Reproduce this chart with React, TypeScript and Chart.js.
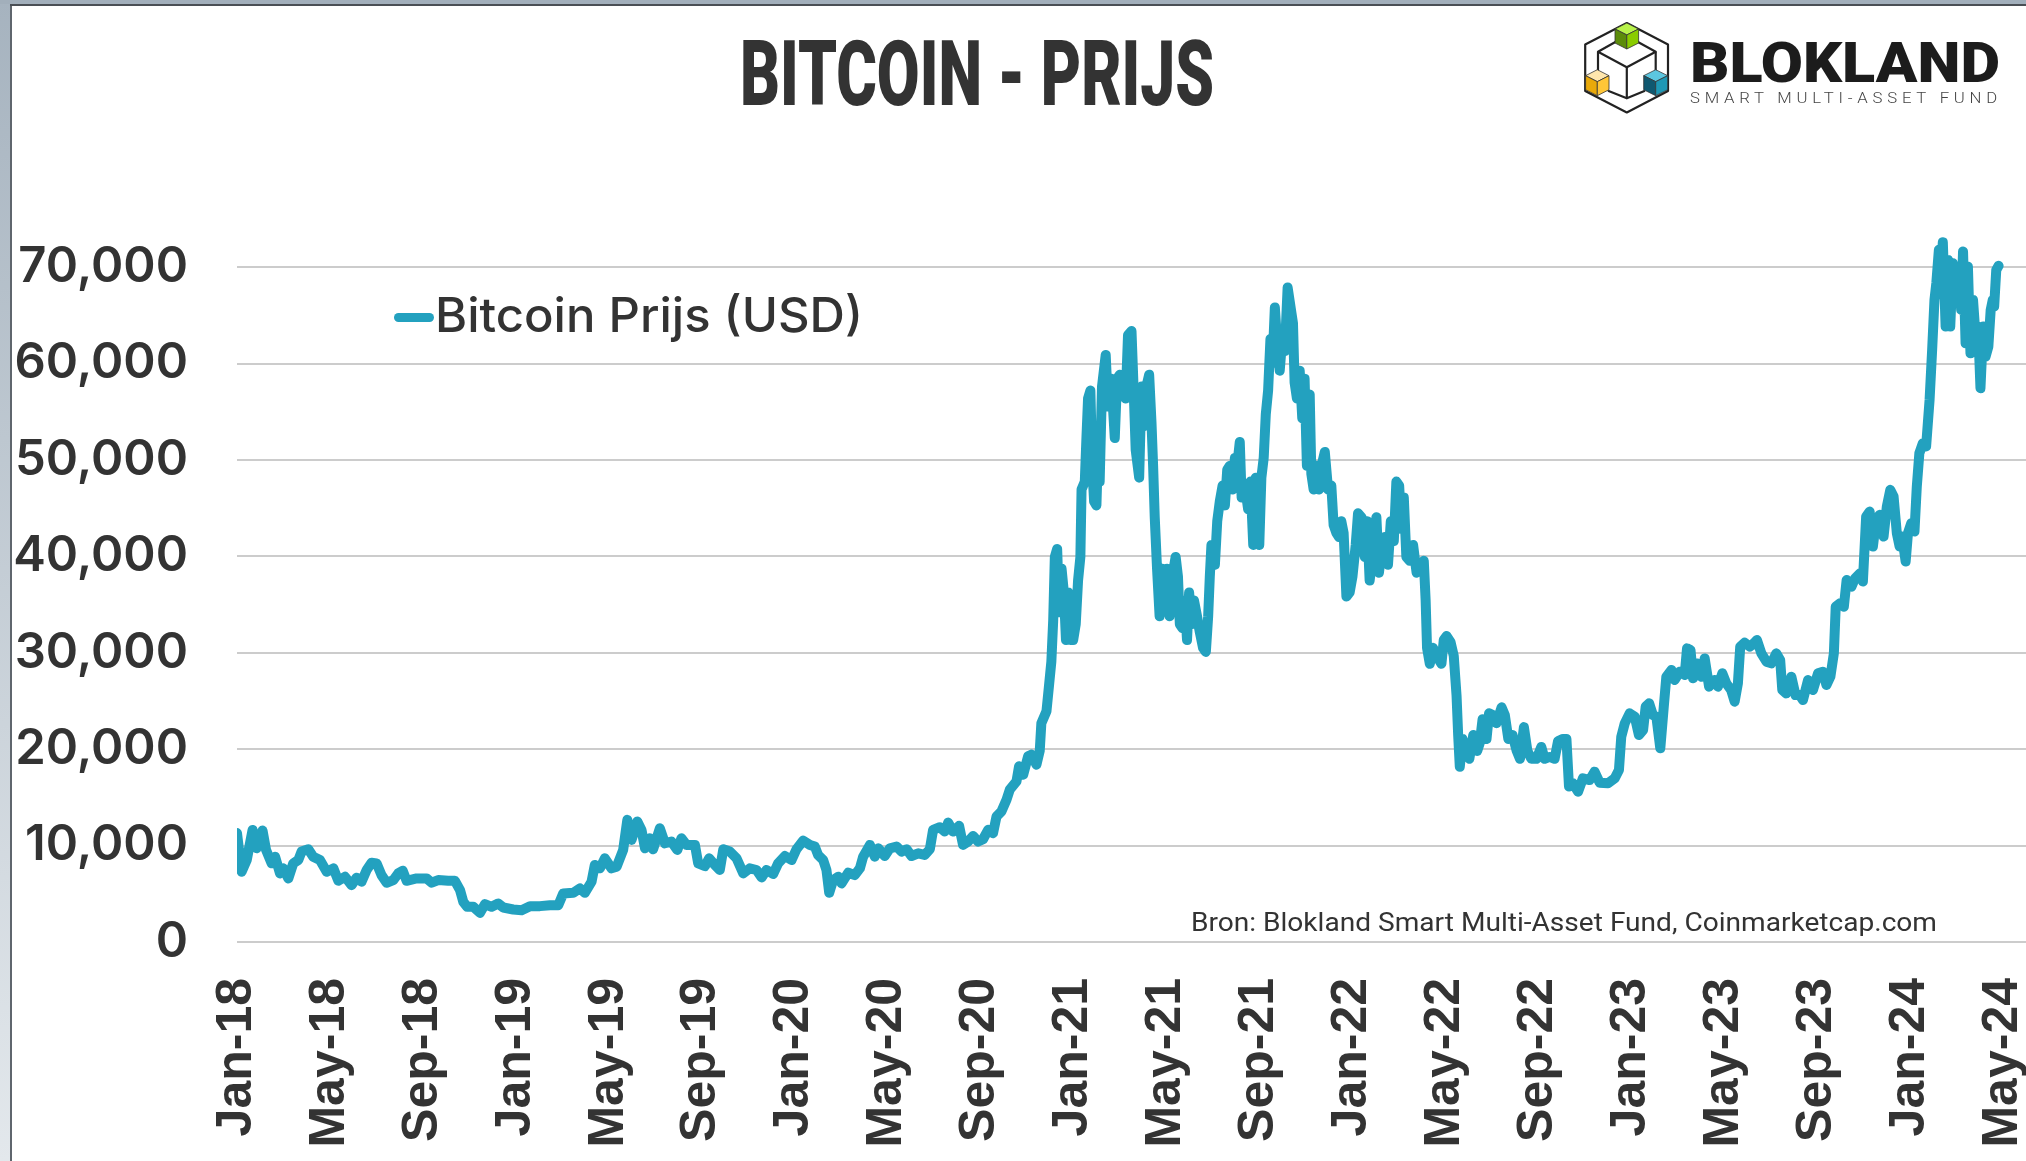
import React, { useEffect, useLayoutEffect, useRef } from "react";
import { Chart, registerables } from "chart.js";

Chart.register(...registerables);

const TITLE = "BITCOIN - PRIJS";
const SERIES_LABEL = "Bitcoin Prijs (USD)";
const SOURCE = "Bron: Blokland Smart Multi-Asset Fund, Coinmarketcap.com";
const LINE_COLOR = "#23A1BF";

const TICK_LABELS = [
  "Jan-18", "May-18", "Sep-18", "Jan-19", "May-19", "Sep-19", "Jan-20",
  "May-20", "Sep-20", "Jan-21", "May-21", "Sep-21", "Jan-22", "May-22",
  "Sep-22", "Jan-23", "May-23", "Sep-23", "Jan-24", "May-24",
];

const Y_TICKS = [0, 10000, 20000, 30000, 40000, 50000, 60000, 70000];

// x position in months since Jan-18
const MONTHS = [
  0, 0.2, 0.42, 0.67, 0.85, 1.1, 1.25, 1.49, 1.64, 1.85, 1.99, 2.21, 2.42, 2.64, 2.78, 3.07, 3.28, 3.57, 3.86,
  4.15, 4.36, 4.65, 4.93, 5.15, 5.36, 5.58, 5.79, 6.01, 6.22, 6.44, 6.73, 6.94, 7.13, 7.3, 7.73, 8.16, 8.38,
  8.66, 9.09, 9.38, 9.6, 9.74, 9.91, 10.17, 10.46, 10.67, 10.96, 11.24, 11.46, 11.89, 12.25, 12.61, 13.04,
  13.47, 13.83, 14.04, 14.47, 14.76, 14.97, 15.26, 15.4, 15.62, 15.83, 16.12, 16.34, 16.62, 16.8, 16.98,
  17.23, 17.41, 17.56, 17.77,
  17.91, 18.2, 18.42, 18.7, 18.95, 19.13, 19.35, 19.71, 19.85, 20.14, 20.32, 20.57, 20.78, 20.93, 21.21,
  21.5, 21.79, 22.07, 22.36, 22.58, 22.79, 23.08, 23.29, 23.58, 23.87, 24.08, 24.37, 24.66, 24.87, 25.01,
  25.23, 25.37, 25.49, 25.66, 25.88, 26.02, 26.31, 26.59, 26.81, 26.95, 27.24, 27.45, 27.6, 27.88, 28.1,
  28.39, 28.6, 28.82, 29.03, 29.32, 29.6, 29.82, 29.96, 30.25, 30.46, 30.61, 30.82, 31.08, 31.25, 31.47,
  31.68, 31.9, 32.11, 32.33, 32.54, 32.69, 32.9, 33.12, 33.26, 33.55, 33.66, 33.84, 34.05, 34.19, 34.41,
  34.55, 34.62, 34.84, 34.95, 35.05, 35.13, 35.2, 35.3, 35.39, 35.49, 35.59, 35.68, 35.77, 35.87, 35.99,
  36.1, 36.2, 36.3, 36.35, 36.49, 36.56, 36.63, 36.73, 36.81, 36.89, 36.99, 37.06, 37.13, 37.23, 37.39,
  37.49, 37.63, 37.78, 37.88, 38.0, 38.11, 38.25, 38.35, 38.5, 38.6, 38.68, 38.83, 38.93, 39.03, 39.14,
  39.26, 39.36, 39.43, 39.5, 39.6, 39.71, 39.83, 39.93, 40.03, 40.14, 40.26, 40.4, 40.5, 40.58, 40.69,
  40.79, 40.89, 40.98, 41.08, 41.19, 41.32, 41.44, 41.58, 41.7, 41.8, 41.87, 41.94, 42.09, 42.19, 42.3,
  42.42, 42.52, 42.62, 42.73, 42.85, 42.95, 43.05, 43.16, 43.24, 43.38, 43.52, 43.62, 43.74, 43.85, 44.0,
  44.09, 44.19, 44.28, 44.38, 44.48, 44.57, 44.67, 44.77, 44.88, 45.0, 45.1, 45.22,
  45.45, 45.52, 45.62, 45.74, 45.85, 45.95, 46.05, 46.17, 46.24, 46.34, 46.46, 46.57, 46.72, 46.82, 46.96,
  47.1, 47.2, 47.32, 47.43, 47.53, 47.63, 47.75, 47.89, 48.01, 48.15, 48.25, 48.4, 48.54, 48.64, 48.75,
  48.89, 49.04, 49.15, 49.25, 49.4, 49.54, 49.66, 49.79, 49.9, 50.02, 50.12, 50.22, 50.33, 50.48, 50.62,
  50.77, 50.91, 51.08, 51.16, 51.22, 51.34, 51.48, 51.63, 51.84, 51.94, 52.06, 52.23, 52.37, 52.49, 52.56,
  52.63, 52.75, 52.89, 53.04, 53.21, 53.38, 53.49, 53.61, 53.78, 53.89, 54.07, 54.21, 54.43, 54.57, 54.72,
  54.9, 55.08, 55.22, 55.39, 55.54, 55.71, 55.93, 56.14, 56.28, 56.5, 56.71, 56.86, 57.07, 57.22, 57.33,
  57.5, 57.72, 57.93, 58.22, 58.43, 58.65, 59.01, 59.3, 59.48, 59.58, 59.73, 59.94, 60.16, 60.34, 60.52,
  60.63, 60.78, 60.94, 61.09, 61.26, 61.41, 61.52, 61.74, 61.88, 62.1, 62.31, 62.41, 62.56, 62.67, 62.84,
  63.03, 63.17, 63.36, 63.6, 63.74, 63.93, 64.1, 64.31, 64.46, 64.6, 64.7, 64.89, 65.11, 65.28, 65.42,
  65.61, 65.83, 66.04, 66.25, 66.42, 66.51, 66.68, 66.9, 67.08, 67.26, 67.4, 67.62, 67.83, 68.05, 68.26,
  68.41, 68.58, 68.73, 68.81, 68.99, 69.16, 69.28, 69.49, 69.64, 69.85,
  69.98, 70.12, 70.27, 70.41, 70.55, 70.7, 70.87, 71.01, 71.16, 71.3, 71.44, 71.56, 71.67, 71.82, 71.92,
  72.06, 72.2, 72.3, 72.41, 72.56, 72.7, 72.85, 72.96, 73.06, 73.14, 73.25, 73.35, 73.42, 73.54, 73.64,
  73.74, 73.85, 73.97, 74.11, 74.21, 74.29, 74.4, 74.5, 74.61, 74.72, 74.84, 74.94, 75.04, 75.16, 75.26,
  75.38, 75.48, 75.57, 75.63, 75.72, 75.82,
];

// Bitcoin price in USD
const PRICES = [
  11300, 7290, 8500, 11630, 9720, 11560, 9550, 8160, 8850, 7120, 7640, 6600, 8160, 8500, 9380, 9620, 8850, 8500, 7290,
  7640, 6350, 6770, 5900, 6670, 6250, 7470, 8230, 8160, 6940, 6150, 6420, 7120, 7400, 6350, 6600, 6600, 6150,
  6420, 6350, 6350, 5380, 4170, 3650, 3650, 3020, 3920, 3650, 3990, 3580, 3370, 3300, 3720, 3720,
  3820, 3820, 5030, 5100, 5560, 5100, 6250, 7990, 7640, 8680, 7640, 7810, 9550, 12670, 10590,
  12500, 11630, 9720, 10760,
  9620, 11800, 10240, 10420, 9550, 10760, 10070, 10070, 8160, 7880, 8680, 7990, 7470, 9620, 9380,
  8680, 7120, 7640, 7470, 6700, 7470, 7050, 8160, 8920, 8500, 9620, 10520, 10070, 9900, 9030,
  8500, 7470, 5100, 6420, 6770, 6080, 7190, 6940, 7640, 8850, 10070, 8850, 9720, 8920, 9720,
  9900, 9380, 9620, 8920, 9200, 9030, 9620, 11630, 11910, 11460, 12390, 11460, 12050, 10070, 10420,
  11000, 10420, 10660, 11630, 11280, 13020, 13540, 14760, 15800, 16670, 18230, 17360, 19270, 19440, 18400,
  19820, 22700, 23930, 26600, 29070, 33380, 39950, 40770, 34200, 38720, 36260, 31330, 36260, 31330, 31330,
  32970, 37490, 39950, 46940, 47760, 52280, 56380, 57200, 49400, 45700, 45290, 51040, 47760, 57620, 60900,
  55560, 58440, 52280, 58440, 58850, 56800, 56380, 62960, 63370, 56800, 51040, 48170, 57620, 53510, 57620,
  58850, 53920, 49400, 44060, 38720, 33790, 38720, 34610, 38720, 33790, 37900, 39950, 37900, 32970, 32560,
  35430, 31330, 36260, 32970, 35430, 33790, 32150, 30510, 30090, 33790, 37900, 41190, 39130, 43650, 45700,
  47350, 45290, 48990, 49400, 46940, 50220, 49400, 51870, 46110, 47350, 44880, 47760, 41190, 48170, 41190,
  48170, 50220, 54740, 57200, 62550, 60080, 65830, 62140, 59260, 62960, 61310, 67900,
  64190, 58030, 56380, 59260, 54330, 58440, 49400, 56800, 48580, 46940, 49400, 46940, 49810, 50840, 46940,
  47350, 43240, 42420, 42010, 43650, 42420, 35840, 36260, 37900, 41190, 44470, 44060, 39950, 43650, 37490,
  40360, 44060, 38310, 40360, 42010, 39130, 43650, 41600, 47760, 47350, 42830, 46110, 39950, 39540, 41190,
  38310, 38720, 39540, 35430, 30510, 28860, 30510, 29680, 28860, 31330, 31740, 31120, 29680, 25570, 21470,
  18180, 21060, 19820, 19000, 21470, 19820, 20640, 23110, 21060, 23730, 23520, 22700, 24340, 23520, 21060,
  21470, 19820, 19000, 22290, 19820, 19000, 19000, 20230, 19000, 19200, 19000, 20850, 21060, 21060, 16130,
  16460, 15590, 16980, 16800, 17670, 16530, 16460, 16980, 17840, 21300, 22680, 23720, 23370, 21470, 21990,
  24410, 24760, 23550, 23370, 20090, 24410, 27520, 28210, 27180, 28040, 27700, 30460, 30290, 27350, 28900,
  27520, 29420, 26490, 27180, 26490, 27870, 26830, 26140, 24930, 26830, 30640, 31050, 30640, 30980, 31330,
  29940, 29080, 28900, 29940, 29250, 26140, 25790, 27520, 25620, 25620, 25100, 27180, 26140, 27870, 28040,
  26660, 27520, 29940, 34780, 35130, 34780, 37550, 36860, 37720, 38240,
  37390, 44130, 44650, 41020, 43790, 44310, 42060, 45170, 46900, 46210, 42410, 41020, 42060, 39470, 42410,
  43440, 42580, 47250, 50700, 51740, 51400, 56240, 61420, 66610, 68340, 71800, 70070, 72600, 63840, 70760,
  63840, 70410, 67990, 70070, 65570, 71630, 62110, 70070, 61070, 66610, 62460, 63840, 57450, 63840, 60730,
  61770, 65570, 66610, 65920, 69720, 70140,
];

function FitText(props: {
  children: React.ReactNode;
  left: number;
  top: number;
  width: number;
  style: React.CSSProperties;
}) {
  const ref = useRef<HTMLDivElement>(null);
  useLayoutEffect(() => {
    const el = ref.current;
    if (!el) return;
    const apply = () => {
      el.style.transform = "none";
      const w = el.getBoundingClientRect().width;
      if (w > 0) el.style.transform = `scaleX(${props.width / w})`;
    };
    apply();
    const f = (document as any).fonts;
    if (f && f.ready) f.ready.then(apply);
  }, []);
  return (
    <div
      ref={ref}
      style={{
        position: "absolute",
        left: props.left,
        top: props.top,
        whiteSpace: "nowrap",
        lineHeight: 1,
        transformOrigin: "left top",
        ...props.style,
      }}
    >
      {props.children}
    </div>
  );
}

function Logo() {
  const s = { stroke: "#222", strokeWidth: 2.2, fill: "none", strokeLinejoin: "round" as const };
  const cube = (cx: number, ty: number, w: number, h: number, top: string, l: string, r: string) => {
    const hw = w / 2;
    const q = h * 0.23;
    const by = ty + h;
    return (
      <g stroke="#333" strokeWidth={0.8} strokeLinejoin="round">
        <polygon points={`${cx},${ty} ${cx - hw},${ty + q} ${cx},${ty + 2 * q} ${cx + hw},${ty + q}`} fill={top} />
        <polygon points={`${cx - hw},${ty + q} ${cx},${ty + 2 * q} ${cx},${by} ${cx - hw},${by - q}`} fill={l} />
        <polygon points={`${cx},${ty + 2 * q} ${cx + hw},${ty + q} ${cx + hw},${by - q} ${cx},${by}`} fill={r} />
      </g>
    );
  };
  return (
    <svg
      width={86}
      height={92}
      viewBox="0 0 86 92"
      style={{ position: "absolute", left: 1584, top: 22 }}
    >
      <polygon points="42.8,1 1.2,22.5 1.2,69 42.8,90.5 84,69 84,22.5" {...s} />
      <polyline points="31.8,19.7 14,29.7 42.8,45.3 71.7,29.7 53.5,19.7" {...s} />
      <line x1={14} y1={29.7} x2={14} y2={50} {...s} />
      <line x1={71.7} y1={29.7} x2={71.7} y2={50} {...s} />
      <line x1={42.8} y1={45.3} x2={42.8} y2={76.3} {...s} />
      <polyline points="24,68.7 42.8,76.3 61,68.7" {...s} />
      {cube(42.8, 1, 23.6, 26, "#b8f24a", "#5c8c0a", "#8acc00")}
      {cube(13.3, 47.7, 23.4, 26, "#ffe6ad", "#e9a90a", "#ffc637")}
      {cube(71.7, 47.7, 24, 26, "#5cc6e0", "#0f5870", "#1f98b5")}
    </svg>
  );
}

export default function App() {
  const canvasRef = useRef<HTMLCanvasElement>(null);

  useEffect(() => {
    const canvas = canvasRef.current;
    if (!canvas) return;
    const points = MONTHS.map((m, i) => ({ x: m, y: PRICES[i] }));
    const chart = new Chart(canvas, {
      type: "line",
      data: {
        datasets: [
          {
            label: SERIES_LABEL,
            data: points,
            borderColor: LINE_COLOR,
            backgroundColor: LINE_COLOR,
            borderWidth: 10,
            pointRadius: 0,
            tension: 0,
            borderJoinStyle: "round",
            borderCapStyle: "round",
            fill: false,
          },
        ],
      },
      options: {
        animation: false,
        responsive: false,
        devicePixelRatio: 1,
        layout: { padding: { top: 219, left: 0, right: 0, bottom: 0 } },
        plugins: {
          legend: { display: false },
          tooltip: { enabled: false },
          title: { display: false },
        },
        scales: {
          x: {
            type: "linear",
            min: 0,
            max: 77,
            grid: { display: false, drawTicks: false },
            border: { display: false },
            ticks: {
              stepSize: 4,
              autoSkip: false,
              maxRotation: 90,
              minRotation: 90,
              padding: 36,
              includeBounds: false,
              color: "#333333",
              font: { family: "'Liberation Sans', Arial, sans-serif", size: 50, weight: "bold" },
              callback: (v: any) => {
                const i = Number(v) / 4;
                return Number.isInteger(i) && TICK_LABELS[i] ? TICK_LABELS[i] : "";
              },
            },
            afterBuildTicks: (scale: any) => {
              scale.ticks = TICK_LABELS.map((_, i) => ({ value: i * 4 }));
            },
            afterFit: (scale: any) => {
              scale.height = 219;
              scale.paddingLeft = 0;
              scale.paddingRight = 0;
            },
          },
          y: {
            min: 0,
            max: 75000,
            grid: { color: "#cccccc", lineWidth: 2, drawTicks: false },
            border: { display: false },
            ticks: {
              padding: 49,
              color: "#333333",
              font: { family: "Inter, 'Noto Sans', sans-serif", size: 49, weight: 600 },
              callback: (v: any) => Number(v).toLocaleString("en-US"),
            },
            afterBuildTicks: (scale: any) => {
              scale.ticks = Y_TICKS.map((v) => ({ value: v }));
            },
            afterFit: (scale: any) => {
              scale.width = 237;
            },
          },
        },
      },
    });
    return () => chart.destroy();
  }, []);

  return (
    <div
      style={{
        position: "fixed",
        left: 0,
        top: 0,
        width: 2026,
        height: 1161,
        background: "#ffffff",
        overflow: "hidden",
      }}
    >
      <canvas
        ref={canvasRef}
        width={2026}
        height={1161}
        style={{ position: "absolute", left: 0, top: 0, width: 2026, height: 1161 }}
      />
      <div
        style={{
          position: "absolute",
          left: 0,
          top: 0,
          width: 10,
          height: 1161,
          background: "linear-gradient(to bottom, #a6b3bf, #e3e8ec)",
        }}
      />
      <div style={{ position: "absolute", left: 10, top: 0, width: 2, height: 1161, background: "#5f666d" }} />
      <div style={{ position: "absolute", left: 0, top: 0, width: 2026, height: 4, background: "#a2afbb" }} />
      <div style={{ position: "absolute", left: 10, top: 4, width: 2016, height: 2, background: "#4a4f55" }} />

      <FitText
        left={740}
        top={30}
        width={474}
        style={{ fontFamily: "Roboto, sans-serif", fontWeight: 900, fontSize: 90, color: "#333333" }}
      >
        {TITLE}
      </FitText>

      <Logo />
      <FitText
        left={1690}
        top={36}
        width={310}
        style={{ fontFamily: "Roboto, sans-serif", fontWeight: 900, fontSize: 55, color: "#1c1c1c" }}
      >
        BLOKLAND
      </FitText>
      <FitText
        left={1690}
        top={91}
        width={312}
        style={{
          fontFamily: "Roboto, sans-serif",
          fontWeight: 300,
          fontSize: 14,
          letterSpacing: 4,
          color: "#444444",
        }}
      >
        SMART MULTI-ASSET FUND
      </FitText>

      <div
        style={{
          position: "absolute",
          left: 394,
          top: 313,
          width: 40,
          height: 9,
          borderRadius: 5,
          background: LINE_COLOR,
        }}
      />
      <FitText
        left={435}
        top={291}
        width={428}
        style={{ fontFamily: "Inter, sans-serif", fontWeight: 500, fontSize: 48, color: "#333333" }}
      >
        {SERIES_LABEL}
      </FitText>

      <FitText
        left={1191}
        top={909}
        width={746}
        style={{ fontFamily: "Roboto, sans-serif", fontWeight: 400, fontSize: 26, color: "#333333" }}
      >
        {SOURCE}
      </FitText>
    </div>
  );
}
